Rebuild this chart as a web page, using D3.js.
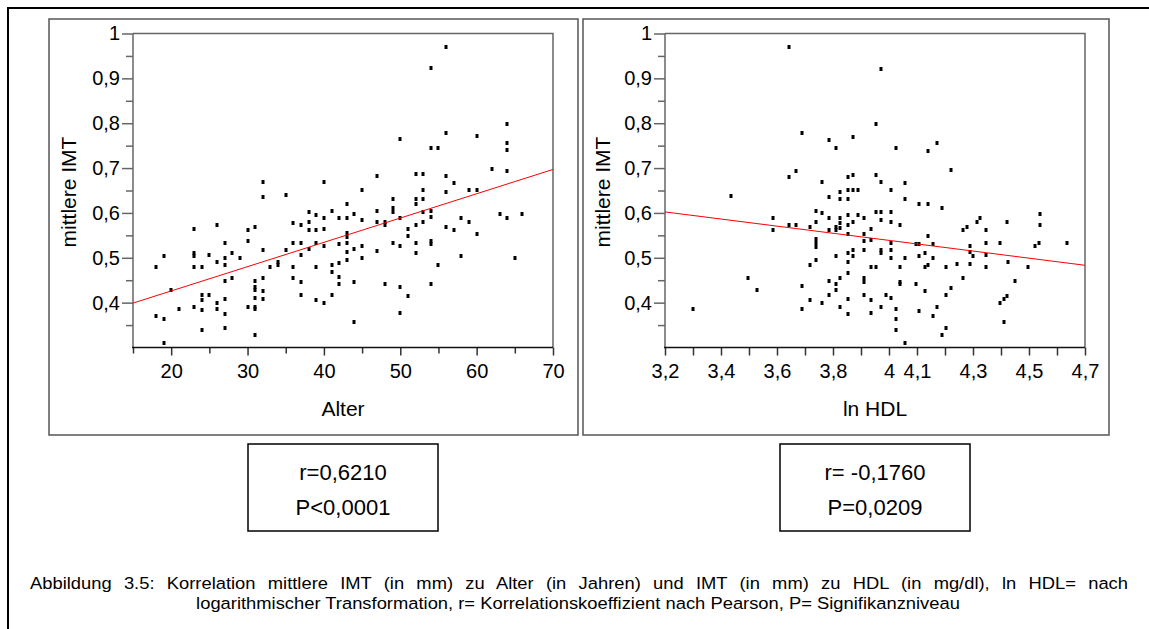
<!DOCTYPE html>
<html>
<head>
<meta charset="utf-8">
<script src="https://cdn.jsdelivr.net/npm/d3@7"></script>
<style>
  body { margin: 0; background: #fff; }
  svg { display: block; font-family: "Liberation Sans", Arial, sans-serif; }
</style>
</head>
<body>
<div id="chart"></div>
<script>
// ---- data ----
var ageX = [18,19,18,19,19,20,21,23,23,23,23,23,24,24,24,24,24,25,25,26,26,26,26,27,27,27,27,27,27,27,28,28,29,30,30,30,
  31,31,31,31,31,31,31,31,32,32,32,32,32,32,33,34,34,35,35,36,36,36,36,37,37,37,37,37,38,38,38,38,39,39,39,39,39,
  40,40,40,40,40,41,41,41,41,42,42,42,42,42,43,43,43,43,43,43,43,44,44,44,44,45,45,45,45,47,47,47,47,48,48,48,
  49,49,49,49,50,50,50,50,50,51,51,51,52,52,52,52,52,52,53,53,53,53,53,54,54,54,54,54,54,54,55,55,
  56,56,56,56,56,57,57,58,58,59,59,60,60,60,62,63,64,64,64,64,64,65,66];
var ageImt = [0.48,0.503,0.37,0.363,0.31,0.428,0.386,0.564,0.51,0.503,0.48,0.39,0.48,0.417,0.406,0.384,0.34,0.507,0.417,
  0.572,0.491,0.40,0.386,0.534,0.499,0.483,0.448,0.409,0.375,0.343,0.51,0.456,0.499,0.562,0.537,0.391,
  0.569,0.448,0.434,0.428,0.41,0.391,0.385,0.328,0.67,0.635,0.518,0.456,0.425,0.408,0.48,0.491,0.484,0.639,0.518,
  0.577,0.534,0.48,0.456,0.572,0.534,0.507,0.445,0.417,0.601,0.58,0.562,0.519,0.596,0.562,0.534,0.48,0.406,
  0.67,0.588,0.565,0.526,0.399,0.604,0.484,0.469,0.417,0.588,0.53,0.488,0.458,0.441,0.62,0.588,0.555,0.546,0.534,
  0.514,0.495,0.597,0.519,0.445,0.356,0.65,0.584,0.526,0.499,0.682,0.604,0.58,0.515,0.58,0.572,0.441,
  0.631,0.612,0.601,0.534,0.764,0.589,0.526,0.434,0.378,0.565,0.549,0.414,0.686,0.631,0.62,0.572,0.534,0.51,
  0.686,0.65,0.631,0.601,0.58,0.922,0.744,0.604,0.592,0.538,0.53,0.441,0.744,0.484,
  0.97,0.779,0.682,0.647,0.569,0.666,0.562,0.588,0.503,0.65,0.58,0.771,0.65,0.553,0.698,0.597,0.799,0.757,0.74,0.693,0.588,0.499,0.597];

var hdlX = [3.299,3.435,3.498,3.53,3.585,3.585,3.642,3.642,3.642,3.667,3.667,3.69,3.69,3.69,3.717,3.717,3.717,
  3.74,3.74,3.74,3.74,3.74,3.74,3.759,3.759,3.759,3.785,3.785,3.785,3.785,3.785,3.785,3.809,3.809,3.809,3.809,3.809,3.809,
  3.826,3.826,3.826,3.826,3.826,3.826,3.826,3.852,3.852,3.852,3.852,3.852,3.852,3.852,3.852,3.852,3.852,3.852,
  3.871,3.871,3.871,3.871,3.871,3.871,3.891,3.891,3.91,3.91,3.91,3.91,3.91,3.91,3.91,3.934,3.934,3.934,3.934,3.934,
  3.953,3.953,3.953,3.953,3.971,3.971,3.971,3.971,3.971,3.971,3.971,3.99,4.008,4.008,4.008,4.008,4.008,4.008,4.008,
  4.026,4.026,4.026,4.026,4.04,4.04,4.04,4.04,4.058,4.058,4.058,4.058,4.096,4.096,4.108,4.108,4.108,4.108,
  4.127,4.127,4.127,4.139,4.139,4.139,4.139,4.158,4.158,4.158,4.17,4.17,4.191,4.191,4.202,4.202,4.202,4.221,4.221,
  4.244,4.265,4.265,4.277,4.29,4.29,4.29,4.3,4.315,4.325,4.345,4.345,4.345,4.345,4.395,4.395,4.409,4.422,4.422,4.409,
  4.426,4.451,4.497,4.521,4.534,4.538,4.538,4.634];
var hdlImt = [0.385,0.638,0.456,0.428,0.588,0.562,0.969,0.681,0.572,0.693,0.572,0.779,0.436,0.385,0.569,0.483,0.406,
  0.604,0.58,0.541,0.532,0.525,0.495,0.67,0.599,0.40,0.762,0.635,0.588,0.562,0.448,0.417,0.744,0.569,0.562,0.503,0.441,0.428,
  0.647,0.63,0.588,0.577,0.566,0.456,0.39,0.681,0.65,0.63,0.596,0.572,0.553,0.51,0.491,0.467,0.408,0.374,
  0.77,0.685,0.65,0.58,0.517,0.504,0.65,0.596,0.588,0.553,0.538,0.517,0.456,0.445,0.417,0.565,0.54,0.48,0.406,0.378,
  0.798,0.685,0.601,0.48,0.921,0.67,0.601,0.584,0.517,0.51,0.39,0.417,0.65,0.601,0.58,0.534,0.517,0.499,0.41,
  0.744,0.385,0.363,0.339,0.572,0.48,0.445,0.441,0.666,0.63,0.499,0.31,0.441,0.53,0.62,0.53,0.503,0.382,
  0.51,0.48,0.425,0.739,0.62,0.549,0.483,0.53,0.499,0.37,0.755,0.39,0.612,0.328,0.48,0.417,0.343,0.696,0.432,
  0.486,0.562,0.456,0.569,0.526,0.514,0.486,0.503,0.58,0.588,0.562,0.534,0.507,0.48,0.534,0.399,0.408,0.58,0.414,0.356,
  0.491,0.448,0.48,0.526,0.534,0.597,0.572,0.534];

// fitted lines (intercept, slope) as shown in the figure
var fitAge = [0.3177, 0.005418];
var fitHdl = [0.856, -0.0793];

var yTicks = [0.4, 0.5, 0.6, 0.7, 0.8, 0.9, 1];
var yMinor = [0.35, 0.45, 0.55, 0.65, 0.75, 0.85, 0.95];
var ageTicks = [20, 30, 40, 50, 60, 70];
var ageMinor = [15, 25, 35, 45, 55, 65];
var hdlTicks = [3.2, 3.4, 3.6, 3.8, 4, 4.1, 4.3, 4.5, 4.7];
var hdlMinor = [3.3, 3.5, 3.7, 3.9, 4.2, 4.4, 4.6];

var statsAge = ["r=0,6210", "P<0,0001"];
var statsHdl = ["r= -0,1760", "P=0,0209"];
var caption = ["Abbildung 3.5: Korrelation mittlere IMT (in mm) zu Alter (in Jahren) und IMT (in mm) zu HDL (in mg/dl), ln HDL= nach",
  "logarithmischer Transformation, r= Korrelationskoeffizient nach Pearson, P= Signifikanzniveau"];

var W = 1149, H = 629;
var de = d3.formatLocale({decimal: ",", thousands: ".", grouping: [3], currency: ["", "€"]});
var fmt = function(d) { return de.format("~g")(d); };

var svg = d3.select("#chart").append("svg").attr("width", W).attr("height", H);

// outer frame
svg.append("path").attr("d", "M8," + H + "V8H" + W)
  .attr("fill", "none").attr("stroke", "#000").attr("stroke-width", 2);

function panel(opt) {
  svg.append("rect")
    .attr("x", opt.box[0]).attr("y", opt.box[1])
    .attr("width", opt.box[2]).attr("height", opt.box[3])
    .attr("fill", "none").attr("stroke", "#555").attr("stroke-width", 1.5);

  var x = d3.scaleLinear().domain(opt.xDomain).range(opt.xRange);
  var y = d3.scaleLinear().domain([0.3, 1]).range([347.5, 33.5]);
  var g = svg.append("g");

  // top + right frame of plot area
  g.append("path")
    .attr("d", "M" + x.range()[0] + "," + y(1) + "H" + x.range()[1] + "V" + y(0.3))
    .attr("fill", "none").attr("stroke", "#666").attr("stroke-width", 1.5);

  var yAxis = g.append("g").attr("transform", "translate(" + x.range()[0] + ",0)")
    .call(d3.axisLeft(y).tickValues(yTicks).tickFormat(fmt).tickSize(11).tickPadding(2));
  yAxis.append("g").call(d3.axisLeft(y).tickValues(yMinor).tickSize(7).tickFormat(""));
  yAxis.selectAll("path,line").attr("stroke", "#666").attr("stroke-width", 1.5);
  yAxis.selectAll(".domain").remove();
  g.append("line").attr("x1", x.range()[0]).attr("x2", x.range()[0])
    .attr("y1", y(1)).attr("y2", y(0.3)).attr("stroke", "#666").attr("stroke-width", 1.5);

  var xAxis = g.append("g").attr("transform", "translate(0," + y(0.3) + ")")
    .call(d3.axisBottom(x).tickValues(opt.xTicks).tickFormat(fmt).tickSize(8).tickPadding(8));
  xAxis.append("g").call(d3.axisBottom(x).tickValues(opt.xMinor).tickSize(opt.minorLen).tickFormat(""));
  xAxis.selectAll("line").attr("stroke", "#333").attr("stroke-width", 1.5);
  xAxis.selectAll(".domain").remove();
  g.append("line").attr("x1", x.range()[0] - 1).attr("x2", x.range()[1])
    .attr("y1", y(0.3)).attr("y2", y(0.3)).attr("stroke", "#111").attr("stroke-width", 1.5);

  g.selectAll(".tick text").attr("font-size", 20).attr("fill", "#000")
    .attr("font-family", "Liberation Sans, Arial, sans-serif");

  // points
  g.selectAll(".pt").data(d3.range(opt.xs.length)).enter().append("rect")
    .attr("class", "pt")
    .attr("x", function(i) { return Math.round(x(opt.xs[i])) - 1.5; })
    .attr("y", function(i) { return Math.round(y(opt.ys[i])) - 2; })
    .attr("width", 3).attr("height", 4).attr("fill", "#000");

  // regression line
  var d0 = opt.xDomain[0], d1 = opt.xDomain[1];
  g.append("line")
    .attr("x1", x(d0)).attr("y1", y(opt.fit[0] + opt.fit[1] * d0))
    .attr("x2", x(d1)).attr("y2", y(opt.fit[0] + opt.fit[1] * d1))
    .attr("stroke", "#f00").attr("stroke-width", 1);

  // titles
  var cx = (x.range()[0] + x.range()[1]) / 2;
  g.append("text").attr("x", cx).attr("y", 416)
    .attr("text-anchor", "middle").attr("font-size", 21).text(opt.xTitle);
  g.append("text").attr("transform", "translate(" + opt.yTitleX + ",192) rotate(-90)")
    .attr("text-anchor", "middle").attr("font-size", 21).text("mittlere IMT");

  // stats box, centred under the x title
  var bw = 190;
  svg.append("rect").attr("x", cx - bw / 2).attr("y", 444).attr("width", bw).attr("height", 87)
    .attr("fill", "none").attr("stroke", "#000").attr("stroke-width", 1.5);
  svg.selectAll(null).data(opt.statText).enter().append("text")
    .attr("x", cx)
    .attr("y", function(d, i) { return 480 + i * 35; })
    .attr("text-anchor", "middle").attr("font-size", 22).text(function(d) { return d; });
}

panel({box: [49, 19, 529, 416], xDomain: [15, 70], xRange: [133, 553],
  xTicks: ageTicks, xMinor: ageMinor, minorLen: 6, xs: ageX, ys: ageImt, fit: fitAge,
  xTitle: "Alter", yTitleX: 76, statText: statsAge});
panel({box: [583, 19, 526, 416], xDomain: [3.2, 4.7], xRange: [665, 1085],
  xTicks: hdlTicks, xMinor: hdlMinor, minorLen: 8, xs: hdlX, ys: hdlImt, fit: fitHdl,
  xTitle: "ln HDL", yTitleX: 610, statText: statsHdl});

// caption: first line justified across the frame, last line centred
var sx = 1.08;
var cap1 = svg.append("text").attr("transform", "translate(30,589) scale(" + sx + ",1)")
  .attr("font-size", 17).text(caption[0]);
var natural = cap1.node().getComputedTextLength();
var spaces = caption[0].split(" ").length - 1;
cap1.attr("word-spacing", Math.max(0, (1098 / sx - natural) / spaces));
svg.append("text").attr("transform", "translate(578,609) scale(" + sx + ",1)")
  .attr("text-anchor", "middle").attr("font-size", 17).text(caption[1]);
</script>
</body>
</html>
